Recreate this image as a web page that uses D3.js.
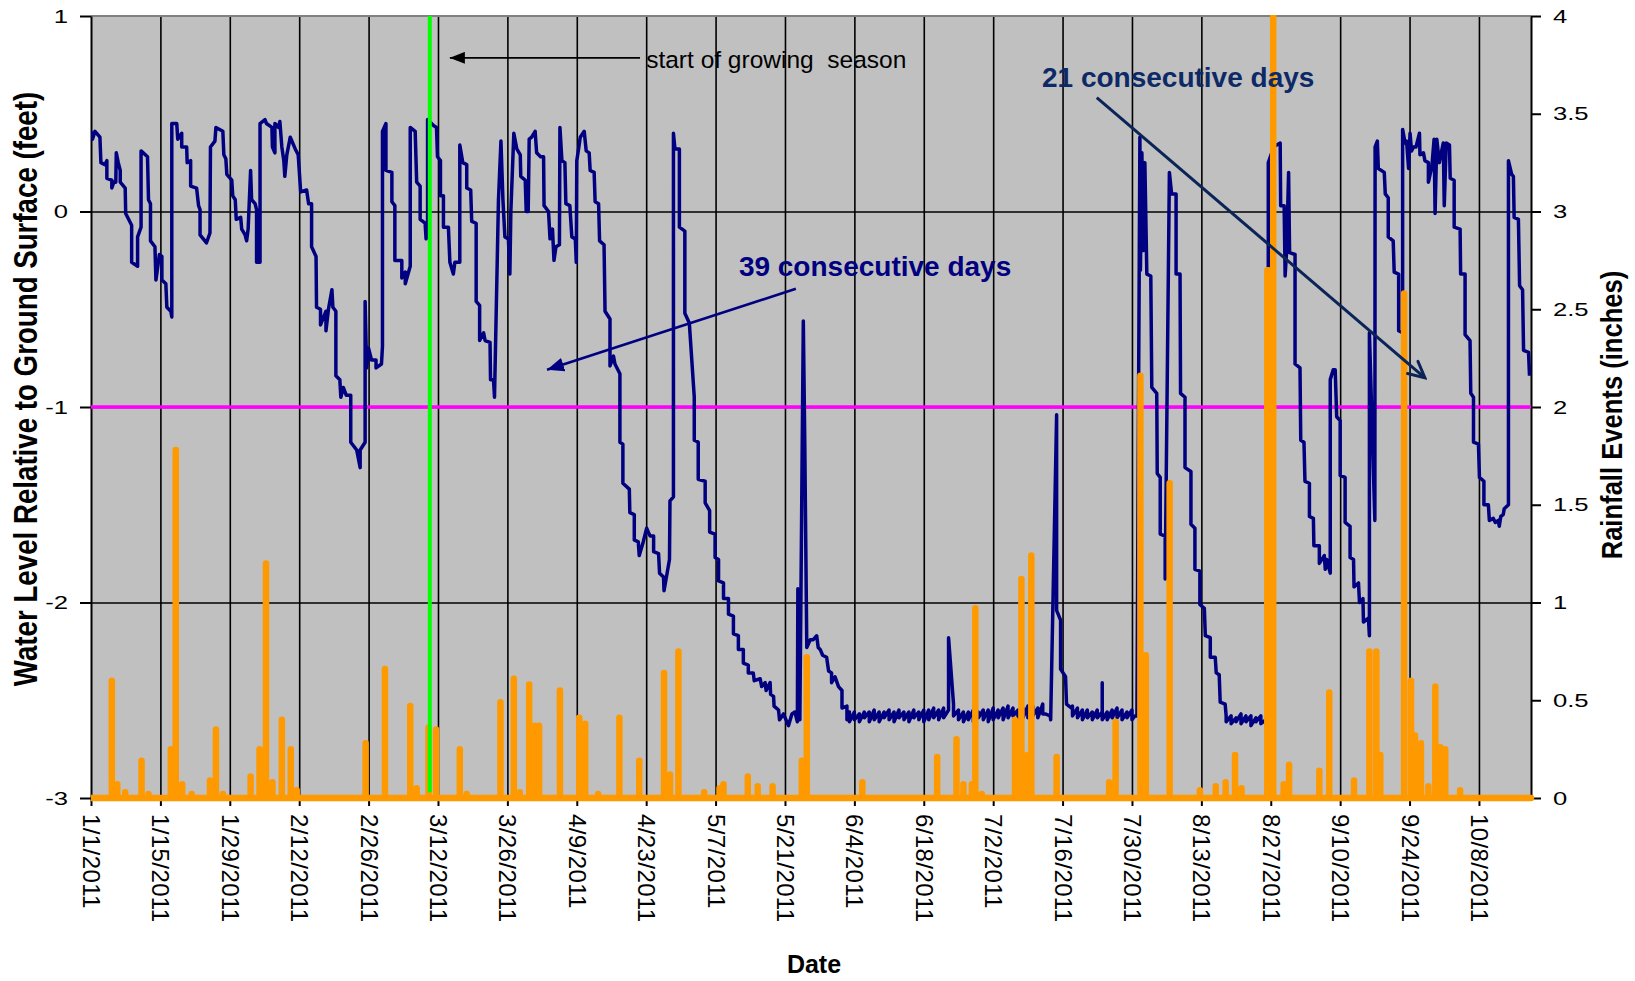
<!DOCTYPE html>
<html>
<head>
<meta charset="utf-8">
<script src="https://cdnjs.cloudflare.com/ajax/libs/d3/7.8.5/d3.min.js"></script>
<style>
  body { margin: 0; background: #fff; }
  svg { display: block; font-family: "Liberation Sans", Arial, Helvetica, sans-serif; }
</style>
</head>
<body>
<div id="chart"></div>
<script>
// x tick labels (every 14 days)
var tickLabels = ['1/1/2011','1/15/2011','1/29/2011','2/12/2011','2/26/2011','3/12/2011','3/26/2011',
  '4/9/2011','4/23/2011','5/7/2011','5/21/2011','6/4/2011','6/18/2011','7/2/2011','7/16/2011',
  '7/30/2011','8/13/2011','8/27/2011','9/10/2011','9/24/2011','10/8/2011']
var leftTicks = [-3, -2, -1, 0, 1]
var rightTicks = [0, 0.5, 1, 1.5, 2, 2.5, 3, 3.5, 4]
var lastDay = 290.5          // days after 1/1/2011 shown on the axis
var growingStartDay = 68.35  // start of growing season
var thresholdFeet = -1

// water level, [days after 1/1/2011, feet]
var waterSeg1 = [[0,0.41],[0.3,0.37],[0.8,0.41],[1.8,0.38],[2.0,0.25],[2.8,0.24],[3.2,0.26],[3.2,0.17],[4.2,0.16],[4.2,0.12],
  [4.6,0.15],[5.0,0.15],[5.1,0.30],[5.5,0.25],[5.9,0.21],[5.9,0.15],[6.9,0.12],[7.0,-0.01],[8.2,-0.07],[8.2,-0.26],
  [9.4,-0.28],[9.4,-0.13],[10.1,-0.08],[10.1,0.31],[11.4,0.28],[11.6,0.06],[12.0,0.04],[12.0,-0.15],[12.9,-0.18],[13.1,-0.35],
  [13.8,-0.22],[14.3,-0.23],[14.3,-0.35],[15.1,-0.37],[15.3,-0.49],[16.1,-0.51],[16.3,-0.54],[16.3,0.45],[17.3,0.45],[17.5,0.37],
  [18.3,0.40],[18.3,0.33],[19.3,0.33],[19.4,0.25],[20.1,0.26],[20.1,0.13],[21.3,0.12],[21.7,0.03],[22.0,0.01],[22.0,-0.12],
  [23.3,-0.16],[24.0,-0.11],[24.1,0.33],[25.0,0.36],[25.2,0.43],[26.6,0.41],[26.8,0.29],[27.2,0.27],[27.4,0.19],[28.4,0.16],
  [28.6,0.08],[29.1,0.06],[29.3,-0.04],[30.2,-0.03],[30.4,-0.09],[31.1,-0.12],[31.4,-0.15],[31.7,-0.09],[32.2,0.21],[32.4,0.06],
  [33.1,0.04],[33.4,0.01],[33.4,-0.26],[34.1,-0.26],[34.1,0.45],[35.1,0.47],[35.4,0.45],[36.5,0.43],[36.6,0.33],[37.1,0.30],
  [37.1,0.45],[37.8,0.43],[38.1,0.46],[38.5,0.33],[38.9,0.26],[39.1,0.18],[39.5,0.29],[40.2,0.38],[41.2,0.32],[41.8,0.29],
  [42.3,0.10],[43.5,0.11],[43.9,0.04],[44.5,0.04],[44.5,-0.18],[45.4,-0.23],[45.5,-0.49],[46.3,-0.50],[46.3,-0.58],[47.4,-0.51],
  [47.4,-0.61],[47.9,-0.50],[48.6,-0.40],[48.8,-0.49],[49.4,-0.51],[49.4,-0.84],[50.2,-0.86],[50.4,-0.95],[50.9,-0.90],[51.5,-0.94],
  [52.4,-0.94],[52.4,-1.18],[53.6,-1.22],[54.3,-1.31],[54.3,-1.22],[55.3,-1.18],[55.3,-0.46],[55.6,-0.80],[56.0,-0.70],[56.6,-0.76],
  [57.5,-0.76],[57.5,-0.80],[58.6,-0.78],[58.8,-0.69],[58.8,0.41],[59.5,0.45],[59.5,0.21],[60.7,0.20],[60.7,0.05],[61.3,0.03],
  [61.3,-0.25],[62.7,-0.25],[62.7,-0.34],[63.4,-0.31],[63.4,-0.37],[64.4,-0.28],[64.4,0.43],[65.4,0.41],[65.7,0.15],[66.4,0.13],
  [66.4,-0.04],[67.4,-0.06],[67.6,-0.14],[67.9,-0.11],[67.9,0.47],[69.1,0.44],[69.7,0.43],[69.9,0.28],[70.5,0.26],[70.5,0.08],
  [71.1,0.08],[71.1,-0.08],[72.1,-0.08],[72.4,-0.26],[73.1,-0.32],[73.4,-0.26],[74.4,-0.26],[74.4,0.34],[75.0,0.25],[75.8,0.24],
  [75.8,0.12],[76.6,0.11],[76.8,-0.05],[77.7,-0.06],[77.7,-0.46],[78.4,-0.48],[78.4,-0.66],[79.2,-0.62],[79.5,-0.66],[80.5,-0.67],
  [80.6,-0.86],[81.2,-0.86],[81.4,-0.95],[82.2,0.06],[82.7,0.36],[83.1,0.06],[83.5,-0.13],[84.2,-0.14],[84.5,-0.32],[84.7,0.00],
  [85.3,0.40],[85.9,0.32],[86.6,0.29],[86.7,0.18],[87.6,0.16],[87.8,0.00],[88.2,0.00],[88.4,0.37],[88.9,0.38],[89.6,0.41],
  [89.9,0.30],[90.7,0.28],[91.3,0.28],[91.4,0.03],[92.3,0.00],[92.6,-0.14],[93.1,-0.09],[93.4,-0.25],[93.8,-0.18],[94.5,-0.17],
  [94.6,0.43],[95.0,0.26],[95.6,0.25],[95.8,0.04],[96.6,0.03],[97.0,-0.13],[97.7,-0.14],[97.9,-0.26],[98.0,0.26],[98.3,0.31],
  [98.7,0.38],[99.5,0.41],[99.9,0.31],[100.5,0.30],[100.7,0.21],[101.5,0.20],[101.7,0.05],[102.4,0.04],[102.6,-0.15],[103.5,-0.17],
  [103.7,-0.51],[104.7,-0.55],[104.7,-0.79],[105.4,-0.74],[105.7,-0.78],[106.7,-0.83],[106.7,-1.18],[107.3,-1.19],[107.3,-1.39],[108.6,-1.42],
  [108.7,-1.54],[109.6,-1.55],[109.6,-1.68],[110.4,-1.69],[110.6,-1.76],[111.4,-1.69],[112.1,-1.62],[112.6,-1.65],[112.8,-1.66],[113.5,-1.66],
  [113.5,-1.74],[114.5,-1.75],[114.7,-1.85],[115.5,-1.87],[115.6,-1.94],[116.7,-1.78],[116.8,-1.48],[117.5,-1.46],[117.5,0.40],[117.8,0.32],
  [118.7,0.32],[118.7,-0.08],[119.8,-0.10],[119.8,-0.52],[120.7,-0.57],[121.7,-0.95],[121.7,-1.17],[122.5,-1.18],[122.5,-1.37],[123.9,-1.38],
  [123.9,-1.49],[124.8,-1.53],[124.8,-1.64],[125.9,-1.65],[125.9,-1.77],[126.6,-1.78],[126.6,-1.89],[127.6,-1.90],[127.6,-1.98],[128.6,-1.98],
  [128.6,-2.06],[129.6,-2.07],[129.6,-2.16],[130.6,-2.17],[130.6,-2.24],[131.6,-2.24],[131.6,-2.31],[132.6,-2.32],[132.6,-2.36],[133.6,-2.36],
  [133.8,-2.40],[135.0,-2.39],[135.3,-2.43],[136.0,-2.41],[136.2,-2.45],[137.0,-2.41],[137.1,-2.47],[137.7,-2.48],[137.8,-2.53],[138.7,-2.55],
  [138.9,-2.60],[139.7,-2.57],[140.7,-2.63],[141.4,-2.57],[142.0,-2.56],[142.5,-2.61],[142.6,-1.93],[142.7,-2.60],[143.0,-2.60],[143.7,-0.56],
  [144.0,-1.20],[144.4,-2.23],[145.1,-2.19],[145.7,-2.19],[146.4,-2.17],[146.7,-2.23],[147.1,-2.24],[147.6,-2.27],[148.4,-2.28],[148.8,-2.35],
  [149.4,-2.36],[149.4,-2.41],[150.1,-2.38],[150.8,-2.43],[151.5,-2.45],[151.5,-2.54],[152.5,-2.53],[152.5,-2.60]]
// flat stretches: readings per day, starting at the given day
var flatAStart = 153
var flatA = [[-2.56,-2.61],[-2.56,-2.60],[-2.57,-2.61],[-2.56,-2.59],[-2.56,-2.61],[-2.55,-2.60],[-2.56,-2.61],[-2.56,-2.59],[-2.55,-2.60],[-2.56,-2.61],
  [-2.55,-2.59],[-2.56,-2.60],[-2.56,-2.61],[-2.55,-2.59],[-2.56,-2.60],[-2.55,-2.61],[-2.55,-2.60],[-2.54,-2.59],[-2.55,-2.60],[-2.54,-2.59],
  [-2.55,-2.18],[-2.52,-2.58],[-2.55,-2.60],[-2.56,-2.61],[-2.56,-2.60],[-2.55,-2.61],[-2.56,-2.59],[-2.55,-2.60],[-2.55,-2.61],[-2.54,-2.60],
  [-2.55,-2.59],[-2.54,-2.60],[-2.53,-2.59],[-2.54,-2.58],[-2.55,-2.60],[-2.54,-2.59],[-2.53,-2.59],[-2.53,-2.58],[-2.54,-2.59],[-2.52,-2.57]]
var waterSeg2 = [[192.5,-2.57],[193.5,-2.58],[193.6,-2.60],[194.8,-1.04],[194.8,-2.04],[195.6,-2.09],[195.6,-2.34],[196.6,-2.38],[196.8,-2.52],[197.8,-2.54]]
var flatBStart = 198
var flatB = [[-2.53,-2.58],[-2.54,-2.59],[-2.55,-2.60],[-2.55,-2.59],[-2.56,-2.60],[-2.55,-2.59],[-2.56,-2.41,-2.56,-2.60],
  [-2.56,-2.60],[-2.55,-2.59],[-2.54,-2.59],[-2.55,-2.60],[-2.56,-2.59],[-2.55,-2.60]]
var waterSeg3 = [[210.6,-2.58],[211.0,-2.58],[211.6,0.38],[211.7,-0.30],[212.0,0.30],[212.3,-0.20],[212.6,0.25],[213.0,-0.32],[213.8,-0.33],[214.0,-0.90],
  [215.0,-0.93],[215.1,-1.34],[215.7,-1.36],[215.7,-1.65],[216.7,-1.66],[216.7,-1.88],[217.55,0.20],[218.0,0.09],[218.9,0.09],[218.9,-0.32],
  [219.7,-0.32],[219.8,-0.93],[220.7,-0.95],[220.7,-1.31],[221.9,-1.33],[221.9,-1.60],[222.7,-1.62],[222.7,-1.83],[223.7,-1.84],[223.7,-2.01],
  [224.6,-2.03],[224.8,-2.17],[225.8,-2.18],[225.8,-2.28],[226.8,-2.28],[227.0,-2.36],[227.6,-2.37],[227.8,-2.51],[228.8,-2.52]]
var flatCStart = 229
var flatC = [[-2.58,-2.61],[-2.58,-2.62],[-2.59,-2.61],[-2.57,-2.62],[-2.58,-2.61],[-2.58,-2.63],[-2.59,-2.61],[-2.58,-2.62],[-2.60,-2.63]]
var waterSeg4 = [[237.5,-2.63],[237.5,0.25],[238.2,0.30],[238.5,0.33],[239.9,0.35],[240.0,0.03],[240.7,0.03],[240.9,-0.33],[241.2,-0.20],[241.6,0.20],
  [241.8,-0.21],[242.9,-0.22],[242.9,-0.78],[243.9,-0.80],[244.05,-1.17],[244.7,-1.18],[244.9,-1.38],[245.8,-1.39],[245.8,-1.56],[246.6,-1.57],
  [246.7,-1.71],[247.8,-1.71],[247.8,-1.80],[248.8,-1.76],[249.0,-1.83],[249.3,-1.78],[250.0,-1.85],[250.0,-0.86],[250.6,-0.81],[251.0,-0.81],
  [251.3,-1.05],[252.0,-1.07],[252.0,-1.35],[253.0,-1.36],[253.0,-1.59],[254.0,-1.61],[254.0,-1.77],[254.7,-1.78],[254.8,-1.92],[255.7,-1.90],
  [255.9,-2.00],[256.6,-1.98],[256.7,-2.10],[257.7,-2.08],[257.9,-2.17],[257.9,-0.62],[259.0,-1.58],[259.05,0.33],[259.5,0.36],[259.7,0.22],
  [260.9,0.20],[261.1,0.09],[261.7,0.07],[261.7,-0.13],[262.7,-0.15],[262.9,-0.31],[263.8,-0.32],[263.8,-0.61],[264.6,-0.62],[264.6,0.42],
  [265.1,0.35],[265.4,0.36],[265.8,0.22],[266.1,0.40],[266.4,0.31],[266.8,0.33],[267.3,0.33],[268.0,0.40],[268.1,0.29],[268.8,0.30],
  [269.1,0.26],[269.8,0.25],[269.8,0.15],[270.5,0.23],[270.95,0.37],[271.15,-0.01],[271.5,0.37],[272.0,0.25],[272.8,0.35],[273.0,0.03],
  [273.4,0.35],[274.05,0.34],[274.2,0.17],[275.0,0.16],[275.0,-0.08],[276.2,-0.09],[276.3,-0.32],[277.2,-0.32],[277.2,-0.63],[278.2,-0.66],
  [278.35,-0.93],[278.9,-0.95],[278.9,-1.18],[279.9,-1.19],[280.1,-1.36],[281.0,-1.38],[281.0,-1.50],[281.9,-1.50],[282.1,-1.58],[282.9,-1.57],
  [283.3,-1.59],[283.9,-1.58],[284.1,-1.61],[284.4,-1.56],[284.9,-1.55],[285.1,-1.52],[285.95,-1.50],[285.95,0.26],[286.6,0.19],[286.95,0.18],
  [287.1,-0.03],[287.96,-0.04],[288.2,-0.38],[288.8,-0.40],[289.0,-0.71],[290.0,-0.72],[290.2,-0.84]]

// rainfall events, [days after 1/1/2011, inches]
var rainEvents = [[4.2,0.60],[5.3,0.07],[6.9,0.03],[10.2,0.19],[11.6,0.02],[16.1,0.25],[17.1,1.78],[18.4,0.07],[20.3,0.02],[24.0,0.09],
  [25.2,0.35],[26.6,0.02],[32.2,0.11],[34.0,0.25],[35.3,1.20],[36.6,0.08],[38.5,0.40],[40.3,0.25],[41.5,0.04],[55.4,0.28],
  [59.3,0.66],[64.4,0.47],[65.7,0.05],[68.1,0.36],[69.6,0.35],[74.4,0.25],[75.8,0.02],[82.6,0.49],[85.3,0.61],[86.5,0.03],
  [88.4,0.58],[89.6,0.37],[90.4,0.37],[94.6,0.55],[98.5,0.41],[99.7,0.38],[102.3,0.02],[106.6,0.41],[110.6,0.19],[115.6,0.64],
  [116.8,0.12],[118.5,0.75],[123.7,0.03],[126.8,0.05],[127.6,0.07],[132.5,0.11],[134.5,0.06],[137.5,0.06],[143.4,0.19],[144.4,0.72],
  [155.6,0.08],[170.7,0.21],[174.6,0.30],[176.0,0.07],[177.7,0.07],[178.4,0.97],[179.7,0.02],[186.4,0.40],[187.7,1.12],[188.9,0.22],
  [189.7,1.24],[194.8,0.21],[205.4,0.08],[206.7,0.39],[211.7,2.16],[212.8,0.73],[217.6,1.61],[223.7,0.04],[226.9,0.06],[228.9,0.08],
  [230.8,0.22],[232.1,0.05],[237.3,2.70],[237.9,2.70],[238.5,4.30],[240.6,0.07],[241.7,0.17],[247.8,0.14],[249.8,0.54],[254.8,0.09],
  [257.9,0.75],[259.3,0.75],[260.1,0.22],[264.9,2.58],[266.3,0.60],[267.1,0.32],[268.3,0.28],[269.8,0.06],[271.2,0.57],[272.2,0.26],
  [273.2,0.25],[276.2,0.04]]

// annotations in data units [day, feet]
var growingNote = {text: 'start of growing  season', at: [112.0, 0.733], from: [110.75, 0.786], to: [72.4, 0.786]}
var note39 = {text: '39 consecutive days', at: [130.7, -0.329], from: [142.2, -0.395], to: [92.0, -0.81]}
var note21 = {text: '21 consecutive days', at: [191.85, 0.635], from: [202.9, 0.582], to: [269.1, -0.851]}

var W = 1635, H = 981
var margin = {top: 16, right: 104, bottom: 183, left: 91}
var width = W - margin.left - margin.right
var height = H - margin.top - margin.bottom

var svg = d3.select('#chart').append('svg').attr('width', W).attr('height', H)
var defs = svg.append('defs')
defs.append('clipPath').attr('id', 'plot-clip')
  .append('rect').attr('x', 0).attr('y', -1).attr('width', width + 4).attr('height', height + 12)

function headFill(id, color, len, half) {
  defs.append('marker').attr('id', id)
    .attr('viewBox', '0 0 ' + len + ' ' + (half * 2))
    .attr('refX', len).attr('refY', half)
    .attr('markerWidth', len).attr('markerHeight', half * 2)
    .attr('markerUnits', 'userSpaceOnUse').attr('orient', 'auto')
    .append('path').attr('d', 'M0,0L' + len + ',' + half + 'L0,' + (half * 2) + 'Z').attr('fill', color)
}
headFill('head-black', '#000', 15, 6)
headFill('head-navy', '#000080', 17, 7)
defs.append('marker').attr('id', 'head-open')
  .attr('viewBox', '-2 -11 22 22').attr('refX', 17).attr('refY', 0)
  .attr('markerWidth', 22).attr('markerHeight', 22)
  .attr('markerUnits', 'userSpaceOnUse').attr('orient', 'auto')
  .append('path').attr('d', 'M1,-8L17,0L1,8').attr('fill', 'none')
  .attr('stroke', '#0b2458').attr('stroke-width', 3).attr('stroke-linecap', 'round')

var g = svg.append('g').attr('transform', 'translate(' + margin.left + ',' + margin.top + ')')

var parseDate = d3.timeParse('%m/%d/%Y')
var yearStart = parseDate(tickLabels[0])
var tickDays = tickLabels.map(function(l){ return d3.timeDay.count(yearStart, parseDate(l)) })

var x = d3.scaleLinear().domain([0, lastDay]).range([0, width])
var yL = d3.scaleLinear().domain([-3, 1]).range([height, 0])
var yR = d3.scaleLinear().domain([0, 4]).range([height, 0])

// plot area
g.append('rect').attr('width', width).attr('height', height).attr('fill', '#c0c0c0')

// gridlines
g.append('g').attr('class', 'grid')
  .attr('transform', 'translate(0,' + height + ')')
  .call(d3.axisBottom(x).tickValues(tickDays.slice(1)).tickSize(-height).tickFormat(''))
  .call(function(s){ s.select('.domain').remove() })
g.append('g').attr('class', 'grid')
  .call(d3.axisLeft(yL).tickValues([-2, -1, 0]).tickSize(-width).tickFormat(''))
  .call(function(s){ s.select('.domain').remove() })
g.selectAll('.grid line').attr('stroke', '#000').attr('stroke-width', 1.6)

g.append('line').attr('x1', 0).attr('x2', width).attr('y1', 0).attr('y2', 0)
  .attr('stroke', '#808080').attr('stroke-width', 2)

// axes
var xAxis = g.append('g').attr('transform', 'translate(0,' + height + ')')
  .call(d3.axisBottom(x).tickValues(tickDays).tickFormat(function(d, i){ return tickLabels[i] })
    .tickSize(8).tickSizeOuter(0))
xAxis.selectAll('text')
  .attr('x', 0).attr('y', 0).attr('dy', '0.35em')
  .attr('transform', 'translate(0,16) rotate(90)')
  .attr('text-anchor', 'start')
  .attr('font-size', 24).attr('letter-spacing', 0.4).attr('fill', '#000')

var leftAxis = g.append('g')
  .call(d3.axisLeft(yL).tickValues(leftTicks).tickFormat(function(d){ return String(d) })
    .tickSize(11).tickSizeOuter(0))
leftAxis.selectAll('text')
  .attr('x', -23 / 1.35).attr('transform', 'scale(1.35,1)')
  .attr('font-size', 19).attr('fill', '#000')

var rightAxis = g.append('g').attr('transform', 'translate(' + width + ',0)')
  .call(d3.axisRight(yR).tickValues(rightTicks).tickFormat(function(d){ return String(d) })
    .tickSize(10).tickSizeOuter(0))
rightAxis.selectAll('text')
  .attr('x', 22 / 1.35).attr('transform', 'scale(1.35,1)')
  .attr('font-size', 19).attr('fill', '#000')

g.selectAll('.domain').attr('stroke', '#000').attr('stroke-width', 2)
g.selectAll('.tick line').filter(function(){ return !this.parentNode.parentNode.classList.contains('grid') })
  .attr('stroke', '#000').attr('stroke-width', 2)

// series
var series = g.append('g').attr('clip-path', 'url(#plot-clip)')

series.append('line')
  .attr('x1', x(0)).attr('x2', x(lastDay))
  .attr('y1', yL(thresholdFeet)).attr('y2', yL(thresholdFeet))
  .attr('stroke', '#ff00ff').attr('stroke-width', 3.5)

function flatPts(start, vals) {
  var out = []
  vals.forEach(function(day, i){ day.forEach(function(f){ out.push([start + i, f]) }) })
  return out
}
var water = waterSeg1.concat(flatPts(flatAStart, flatA), waterSeg2, flatPts(flatBStart, flatB),
  waterSeg3, flatPts(flatCStart, flatC), waterSeg4)

var waterLine = d3.line().x(function(d){ return x(d[0]) }).y(function(d){ return yL(d[1]) })
series.append('path').datum(water)
  .attr('d', waterLine)
  .attr('fill', 'none').attr('stroke', '#000080').attr('stroke-width', 3.5)
  .attr('stroke-linejoin', 'round')

var rain = [[0, 0]]
rainEvents.forEach(function(e){ rain.push([e[0], 0], [e[0], e[1]], [e[0], 0]) })
rain.push([lastDay, 0])
var rainLine = d3.line().x(function(d){ return x(d[0]) }).y(function(d){ return yR(d[1]) })
series.append('path').datum(rain)
  .attr('d', rainLine)
  .attr('fill', 'none').attr('stroke', '#ff9900').attr('stroke-width', 6.5)
  .attr('stroke-linejoin', 'round').attr('stroke-linecap', 'round')

series.append('line')
  .attr('x1', x(growingStartDay)).attr('x2', x(growingStartDay))
  .attr('y1', yL(1)).attr('y2', yL(-2.97))
  .attr('stroke', '#00ff00').attr('stroke-width', 4)

// annotations
g.append('line')
  .attr('x1', x(growingNote.from[0])).attr('y1', yL(growingNote.from[1]))
  .attr('x2', x(growingNote.to[0])).attr('y2', yL(growingNote.to[1]))
  .attr('stroke', '#000').attr('stroke-width', 1.6).attr('marker-end', 'url(#head-black)')
g.append('text').text(growingNote.text)
  .attr('x', x(growingNote.at[0])).attr('y', yL(growingNote.at[1]))
  .style('white-space', 'pre')
  .attr('font-size', 24.5).attr('fill', '#000')

g.append('line')
  .attr('x1', x(note39.from[0])).attr('y1', yL(note39.from[1]))
  .attr('x2', x(note39.to[0])).attr('y2', yL(note39.to[1]))
  .attr('stroke', '#000080').attr('stroke-width', 2.6).attr('marker-end', 'url(#head-navy)')
g.append('text').text(note39.text)
  .attr('x', x(note39.at[0])).attr('y', yL(note39.at[1]))
  .attr('font-size', 28).attr('font-weight', 'bold').attr('fill', '#000080')

g.append('line')
  .attr('x1', x(note21.from[0])).attr('y1', yL(note21.from[1]))
  .attr('x2', x(note21.to[0])).attr('y2', yL(note21.to[1]))
  .attr('stroke', '#0b2458').attr('stroke-width', 3).attr('marker-end', 'url(#head-open)')
g.append('text').text(note21.text)
  .attr('x', x(note21.at[0])).attr('y', yL(note21.at[1]))
  .attr('font-size', 28).attr('font-weight', 'bold').attr('fill', '#0d2a66')

// axis titles
svg.append('text').text('Water Level Relative to Ground Surface (feet)')
  .attr('transform', 'translate(25,' + (margin.top + height / 2 - 18) + ') scale(1.2,1) rotate(-90)')
  .attr('text-anchor', 'middle').attr('dy', '0.35em')
  .attr('font-size', 27.7).attr('font-weight', 'bold')

svg.append('text').text('Rainfall Events (inches)')
  .attr('transform', 'translate(1612,' + (margin.top + height / 2 + 8) + ') scale(1.15,1) rotate(-90)')
  .attr('text-anchor', 'middle').attr('dy', '0.35em')
  .attr('font-size', 25.6).attr('font-weight', 'bold')

svg.append('text').text('Date')
  .attr('x', margin.left + width / 2 + 3).attr('y', 973)
  .attr('text-anchor', 'middle')
  .attr('font-size', 25).attr('font-weight', 'bold')
</script>
</body>
</html>
